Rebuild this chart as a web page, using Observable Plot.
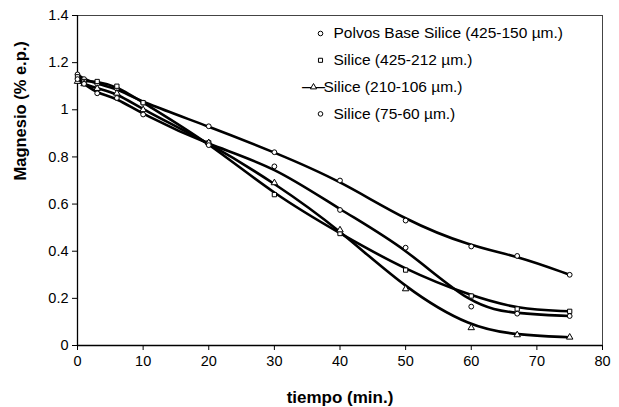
<!DOCTYPE html>
<html>
<head>
<meta charset="utf-8">
<script src="https://cdn.jsdelivr.net/npm/d3@7"></script>
<script src="https://cdn.jsdelivr.net/npm/@observablehq/plot@0.6"></script>
<style>
  html, body { margin: 0; padding: 0; background: #fff; }
  svg { display: block; }
</style>
</head>
<body>
<div id="chart"></div>
<script>
const times = [0, 1, 3, 6, 10, 20, 30, 40, 50, 60, 67, 75];
const seriesNames = [
  "Polvos Base Silice (425-150 µm.)",
  "Silice (425-212 µm.)",
  "Silice (210-106 µm.)",
  "Silice (75-60 µm.)"
];
const polvos425_150 = [1.15, 1.13, 1.11, 1.09, 1.03, 0.93, 0.82, 0.70, 0.53, 0.42, 0.38, 0.30];
const silice425_212 = [1.14, 1.12, 1.12, 1.10, 1.03, 0.86, 0.64, 0.475, 0.32, 0.21, 0.155, 0.145];
const silice210_106 = [1.12, 1.11, 1.09, 1.07, 1.00, 0.86, 0.69, 0.49, 0.24, 0.075, 0.045, 0.035];
const silice75_60 = [1.13, 1.11, 1.07, 1.05, 0.98, 0.85, 0.76, 0.575, 0.415, 0.165, 0.135, 0.125];
const seriesValues = [polvos425_150, silice425_212, silice210_106, silice75_60];
const symbols = ["circle", "square", "triangle", "circle"];
const xTicks = [0, 10, 20, 30, 40, 50, 60, 70, 80];
const yTicks = [0, 0.2, 0.4, 0.6, 0.8, 1, 1.2, 1.4];
const xLabel = "tiempo (min.)";
const yLabel = "Magnesio (% e.p.)";

const data = [];
seriesNames.forEach((s, i) => {
  times.forEach((t, j) => data.push({series: s, t, v: seriesValues[i][j]}));
});

const fmt = d => String(+d.toFixed(1));

const legendMarks = seriesNames.flatMap((s, i) => {
  const dy = 18 + i * 26.8;
  const isLine = i === 2;
  const mx = isLine ? 236 : 243;
  const tx = isLine ? 246 : 256;
  const marks = [];
  if (isLine) {
    marks.push(Plot.text(["——"], {text: d => d, frameAnchor: "top-left", dx: mx, dy, textAnchor: "middle", lineAnchor: "middle", fontSize: 11.5, fontWeight: "bold", fill: "#000"}));
  }
  marks.push(Plot.dot([s], {frameAnchor: "top-left", dx: mx, dy, symbol: d => d, r: 2.3, stroke: "#000", strokeWidth: 1, fill: "#fff"}));
  marks.push(Plot.text([s], {text: d => d, frameAnchor: "top-left", dx: tx, dy, textAnchor: "start", lineAnchor: "middle", fontSize: 15.5, fill: "#000"}));
  return marks;
});

const chart = Plot.plot({
  width: 619,
  height: 407,
  marginLeft: 77,
  marginRight: 17,
  marginTop: 15,
  marginBottom: 62,
  style: {fontFamily: "'Liberation Sans', Arial, sans-serif", fontSize: "14px", color: "#000", background: "#fff"},
  x: {domain: [0, 80], ticks: xTicks, tickFormat: fmt, label: null},
  y: {domain: [0, 1.4], ticks: yTicks, tickFormat: fmt, label: null},
  symbol: {domain: seriesNames, range: symbols},
  marks: [
    Plot.frame({stroke: "#444", strokeWidth: 1}),
    Plot.axisX({ticks: xTicks, tickFormat: fmt, tickSize: 5, tickPadding: 5, label: null, fontSize: 14.5}),
    Plot.axisY({ticks: yTicks, tickFormat: fmt, tickSize: 5, tickPadding: 4, label: null, fontSize: 14.5}),
    Plot.ruleY([0], {stroke: "#000", strokeWidth: 1.3}),
    Plot.ruleX([0], {stroke: "#000", strokeWidth: 1.3}),
    Plot.line(data, {x: "t", y: "v", z: "series", curve: "basis", stroke: "#000", strokeWidth: 2.6}),
    Plot.dot(data, {x: "t", y: "v", symbol: "series", r: 2.4, stroke: "#000", strokeWidth: 1, fill: "#fff"}),
    ...legendMarks,
    Plot.text([xLabel], {text: d => d, frameAnchor: "bottom", dy: 52, lineAnchor: "middle", fontSize: 17, fontWeight: "bold", fill: "#000"}),
    Plot.text([yLabel], {text: d => d, frameAnchor: "left", dx: -57, rotate: -90, lineAnchor: "middle", fontSize: 16.5, fontWeight: "bold", fill: "#000"})
  ]
});
document.getElementById("chart").appendChild(chart);
</script>
</body>
</html>
